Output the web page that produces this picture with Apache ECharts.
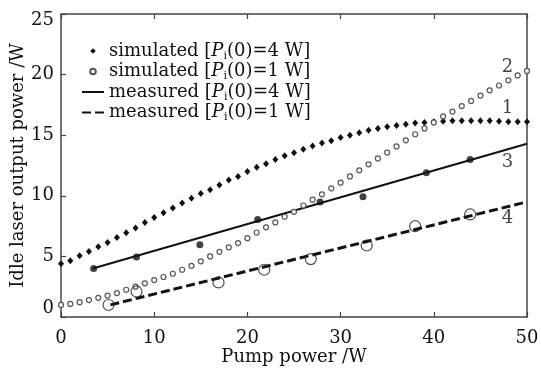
<!DOCTYPE html>
<html><head><meta charset="utf-8">
<script src="https://cdn.jsdelivr.net/npm/echarts@6/dist/echarts.min.js"></script>
<style>html,body{margin:0;padding:0;background:#fff}#c{width:541px;height:368px}</style>
</head><body><div id="c"></div>
<script>
// Simulated curves (pump power, W)
const pumpSim = [0,1,2,3,4,5,6,7,8,9,10,11,12,13,14,15,16,17,18,19,20,21,22,23,24,25,26,27,28,29,30,31,32,33,34,35,36,37,38,39,40,41,42,43,44,45,46,47,48,49,50];
const sim4 = [4.4,4.65,5.05,5.4,5.8,6.15,6.55,6.95,7.35,7.8,8.2,8.6,9.0,9.4,9.8,10.2,10.5,10.9,11.3,11.6,12.0,12.35,12.65,13.0,13.3,13.55,13.85,14.1,14.35,14.55,14.8,15.0,15.2,15.4,15.55,15.7,15.8,15.9,16.0,16.05,16.1,16.15,16.2,16.2,16.2,16.2,16.2,16.15,16.1,16.1,16.1];
const sim1 = [1.0,1.08,1.22,1.4,1.58,1.77,1.97,2.25,2.5,2.78,3.05,3.3,3.57,3.9,4.22,4.59,5.0,5.38,5.75,6.1,6.5,6.97,7.4,7.8,8.27,8.68,9.2,9.68,10.12,10.62,11.08,11.6,12.1,12.6,13.08,13.57,14.07,14.58,15.08,15.56,16.05,16.55,16.95,17.4,17.83,18.27,18.7,19.1,19.53,19.93,20.3];
// Measured points
const meas4X = [3.5,8.1,14.9,21.1,27.8,32.4,39.2,43.9];
const meas4Y = [4.0,4.95,5.97,8.04,9.48,9.93,11.9,13.0];
const meas1X = [5.1,8.1,16.9,21.8,26.8,32.8,38.0,43.9];
const meas1Y = [0.99,2.1,2.85,3.9,4.78,5.9,7.49,8.46];
// Measured fit lines
const fit4X = [3.4,50]; const fit4Y = [4.0,14.3];
const fit1X = [5.3,50]; const fit1Y = [1.0,9.5];
// Curve numbers
const curveNames = ['2','1','3','4'];
const curveLabelX = [47.9,47.9,47.9,47.9];
const curveLabelY = [20.6,17.2,12.8,8.1];
// Axis ticks
const xTicks = [0,10,20,30,40,50];
const yTicks = [0,5,10,15,20,25];

const FF = 'DejaVu Serif';
const zip = (a,b) => a.map((v,i)=>[v,b[i]]);
const legendParts = {
  s4: ['simulated [','(0)=4 W]'],
  s1: ['simulated [','(0)=1 W]'],
  m4: ['measured [','(0)=4 W]'],
  m1: ['measured [','(0)=1 W]']
};
const axisColor = '#444';
const chart = echarts.init(document.getElementById('c'), null, {renderer:'canvas'});
chart.setOption({
  backgroundColor:'#fff',
  animation:false,
  textStyle:{fontFamily:FF, color:'#111'},
  grid:{left:61,right:14,top:14,bottom:51,containLabel:false,outerBoundsMode:'none'},
  legend:{
    left:76, top:37, orient:'vertical', itemWidth:22, itemHeight:7, itemGap:1,
    data:['s4','s1','m4','m1'],
    formatter: n => '{t|'+legendParts[n][0]+'}{p|P}{s|i}{t|'+legendParts[n][1]+'}',
    textStyle:{
      fontFamily:FF, fontSize:18, color:'#111',
      rich:{
        t:{fontFamily:FF,fontSize:18,lineHeight:21,color:'#111'},
        p:{fontFamily:FF,fontSize:18,lineHeight:21,fontStyle:'italic',color:'#111'},
        s:{fontFamily:FF,fontSize:11,lineHeight:11,verticalAlign:'bottom',color:'#111'}
      }
    }
  },
  xAxis:[{
    type:'value', min:0, max:50, interval:10, position:'bottom',
    name:'Pump power /W', nameLocation:'middle', nameGap:31, nameMoveOverlap:false,
    nameTextStyle:{fontFamily:FF,fontSize:18,color:'#111'},
    axisLine:{show:true,onZero:false,lineStyle:{color:axisColor,width:1.5}},
    axisTick:{show:true,inside:true,length:5,lineStyle:{color:axisColor,width:1.2}},
    axisLabel:{fontFamily:FF,fontSize:18,color:'#111',margin:12},
    splitLine:{show:false}
  },{
    type:'value', min:0, max:50, interval:10, position:'top',
    axisLine:{show:true,onZero:false,lineStyle:{color:axisColor,width:1.5}},
    axisTick:{show:true,inside:true,length:5,lineStyle:{color:axisColor,width:1.2}},
    axisLabel:{show:false}, splitLine:{show:false}
  }],
  yAxis:[{
    type:'value', min:0, max:25, interval:5, position:'left',
    name:'Idle laser output power /W', nameLocation:'middle', nameGap:34, nameRotate:90, nameMoveOverlap:false,
    nameTextStyle:{fontFamily:FF,fontSize:18,color:'#111'},
    axisLine:{show:true,onZero:false,lineStyle:{color:axisColor,width:1.5}},
    axisTick:{show:true,inside:true,length:5,lineStyle:{color:axisColor,width:1.2}},
    axisLabel:{
      fontFamily:FF,fontSize:18,color:'#111',margin:7,
      formatter: v => v===25 ? '{dn|25}' : (v===0 ? '{up|0}' : '{n|'+v+'}'),
      rich:{
        n:{fontFamily:FF,fontSize:18,color:'#111'},
        dn:{fontFamily:FF,fontSize:18,color:'#111',padding:[12,0,0,0]},
        up:{fontFamily:FF,fontSize:18,color:'#111',padding:[0,0,18,0]}
      }
    },
    splitLine:{show:false}
  },{
    type:'value', min:0, max:25, interval:5, position:'right',
    axisLine:{show:true,onZero:false,lineStyle:{color:axisColor,width:1.5}},
    axisTick:{show:false}, axisLabel:{show:false}, splitLine:{show:false}
  }],
  series:[
    {name:'m4', type:'line', data:zip(fit4X,fit4Y), symbol:'none', z:3,
     itemStyle:{color:'#111',opacity:0},
     lineStyle:{color:'#111',width:2}},
    {name:'m1', type:'line', data:zip(fit1X,fit1Y), symbol:'none', z:3,
     itemStyle:{color:'#111',opacity:0},
     lineStyle:{color:'#111',width:3,type:[9,4]}},
    {name:'s4', type:'line', data:zip(pumpSim,sim4), symbol:'diamond', symbolSize:[6,7], z:4,
     showAllSymbol:true, itemStyle:{color:'#111'}, lineStyle:{opacity:0,width:0}},
    {name:'s1', type:'line', data:zip(pumpSim,sim1), symbol:'circle', symbolSize:5, z:4,
     showAllSymbol:true, itemStyle:{color:'#fff',borderColor:'#555',borderWidth:1.2},
     lineStyle:{opacity:0,width:0}},
    {name:'m4dots', type:'scatter', data:zip(meas4X,meas4Y), symbol:'circle', symbolSize:7, z:5,
     itemStyle:{color:'#111'}},
    {name:'m1dots', type:'scatter', data:zip(meas1X,meas1Y), symbol:'circle', symbolSize:11, z:5,
     itemStyle:{color:'rgba(255,255,255,0)',borderColor:'#222',borderWidth:1.2}},
    {name:'labels', type:'scatter', symbolSize:0, z:6, silent:true,
     data:curveNames.map((n,i)=>({name:n,value:[curveLabelX[i],curveLabelY[i]]})),
     label:{show:true,position:'inside',formatter:p=>p.name,fontFamily:FF,fontSize:18,color:'#111'}}
  ]
});
</script></body></html>
